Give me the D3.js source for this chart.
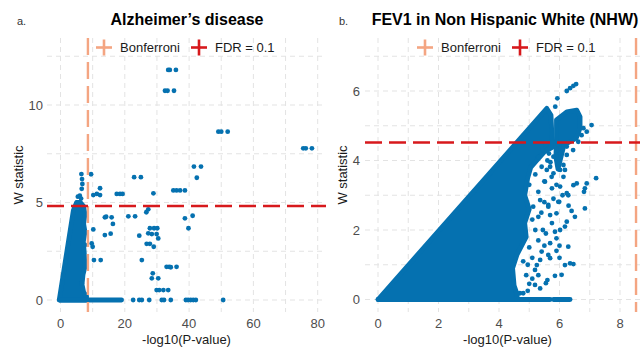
<!DOCTYPE html>
<html>
<head>
<meta charset="utf-8">
<script src="https://cdn.jsdelivr.net/npm/d3@7"></script>
<style>
body { margin: 0; background: #fff; }
svg { display: block; font-family: "Liberation Sans", Arial, sans-serif; }
.tick { font-size: 13px; fill: #4d4d4d; }
.axt { font-size: 13px; fill: #1a1a1a; }
.ttl { font-size: 16px; font-weight: bold; fill: #000; }
.lg { font-size: 13px; fill: #1a1a1a; }
.tag { font-size: 11px; fill: #333; }
</style>
</head>
<body>
<svg width="640" height="347"></svg>
<script>
// ---- data ----
var panelTags = ["a.", "b."]
var panelTitles = ["Alzheimer\u2019s disease", "FEV1 in Non Hispanic White (NHW)"]
var legendLabels = ["Bonferroni", "FDR = 0.1"]
var xLabel = "-log10(P-value)"
var yLabel = "W statistic"

var xTicksA = [0, 20, 40, 60, 80]
var yTicksA = [0, 5, 10]
var xTicksB = [0, 2, 4, 6, 8]
var yTicksB = [0, 2, 4, 6]

// thresholds: bonferroni (-log10 p) and FDR (W)
var bonferroniA = 8.53, fdrA = 4.82
var bonferroniB = 8.53, fdrB = 4.52

// dense cloud outlines [x, W]
var massA = [[-0.4,0],[4.0,4.6],[5.0,5.0],[6.2,5.0],[7.2,4.8],[7.6,4.4],[7.2,3.9],[7.6,3.5],[7.1,3.0],[7.4,2.4],[7.6,1.7],[7.0,1.3],[6.7,0.8],[7.2,0.4],[8.1,0.2],[8.1,0]]
var massB = [[0,0],[5.58,5.5],[5.72,5.3],[5.75,4.7],[5.8,4.4],[5.5,4.25],[5.25,4.0],[5.05,3.8],[4.95,3.5],[4.85,3.0],[5.0,2.6],[4.85,2.2],[4.9,1.8],[4.6,1.3],[4.45,0.9],[4.5,0.4],[4.6,0.15],[4.6,0]]
var lobeB = [[5.9,5.17],[6.24,5.4],[6.57,5.45],[6.68,5.26],[6.68,4.93],[6.55,4.64],[6.35,4.54],[6.15,4.45],[6.05,4.1],[5.95,3.75],[5.88,4.1],[5.9,4.6]]

// runs of touching points on a row [x0, x1, W]
var runsA = [[-0.3, 19, 0]]
var runsB = [[0, 5.69, 0], [5.8, 6.35, 0]]

// single points [x, W]
var pointsA = [
  [33.5,11.8],[34.0,11.8],[35.9,11.8],
  [32.5,10.73],[33.3,10.73],[35.3,10.73],
  [49.1,8.63],[50.0,8.63],[52.0,8.63],
  [75.5,7.78],[76.3,7.78],[78.2,7.78],
  [41.5,6.84],[43.7,6.84],[42.4,6.27],
  [22.9,6.3],[25.0,6.3],[9.5,6.45],[12.3,5.73],
  [6.5,6.46],[6.7,6.2],[6.8,5.95],[6.6,5.7],[5.4,5.3],[6.0,5.35],[6.4,5.2],
  [10.2,5.38],[11.3,5.44],[12.3,5.38],
  [17.5,5.44],[18.5,5.44],[19.3,5.44],[28.9,5.47],
  [35.1,5.62],[36.1,5.62],[37.2,5.62],[38.7,5.62],
  [13.8,4.24],[14.2,4.27],[15.9,4.24],[16.3,3.9],
  [21.1,4.29],[23.2,4.29],[26.7,4.5],[27.3,4.65],
  [38.7,4.19],[41.1,4.32],[39.8,3.68],[10.2,3.62],
  [13.8,3.33],[15.6,3.4],[24.5,3.3],
  [27.8,3.68],[29.1,3.68],[30.1,3.68],
  [27.3,3.42],[28.4,3.38],[29.9,3.38],[30.4,3.16],
  [26.8,2.88],[27.8,2.88],[29.0,2.73],
  [7.6,2.82],[9.7,2.9],[10.0,2.73],
  [10.4,2.05],[12.5,2.05],[25.3,2.05],
  [33.0,1.7],[33.8,1.7],[34.3,1.68],[36.1,1.7],
  [28.7,1.37],[28.4,1.11],[30.4,1.11],
  [29.9,0.51],[30.7,0.51],[32.0,0.51],[33.5,0.51],[6.6,0.86],
  [22.6,0],[24.5,0],[25.3,0],[27.6,0],[31.5,0],[32.2,0],[34.3,0],
  [39.0,0],[39.7,0],[40.5,0],[41.3,0],[42.1,0],[50.6,0]
]
var pointsB = [
  [6.55,6.2],[6.46,6.15],[6.35,6.08],[6.24,6.0],[5.93,5.79],[5.86,5.55],
  [7.06,5.02],[6.9,4.83],[6.79,4.93],[6.73,4.73],[6.62,4.54],[6.45,4.3],
  [5.8,4.11],[6.02,4.21],[6.24,4.4],[6.24,4.16],[6.13,3.87],[6.02,3.73],
  [7.21,3.49],[6.9,3.34],[6.84,3.2],[6.81,3.1],[6.57,3.34],[6.46,3.29],
  [6.84,2.62],[6.24,3.06],[6.29,3.0],[5.96,2.81],[5.63,2.67],[6.51,2.38],
  [5.85,1.95],[6.24,2.24],[6.02,3.25],[6.13,3.53],[6.18,3.73],
  [5.58,3.73],[5.8,3.63],[5.69,3.82],[5.74,3.53],[5.41,3.82],[5.52,3.39],
  [5.36,2.86],[5.13,2.67],[5.3,2.38],[5.9,2.48],
  [6.18,2.1],[6.02,2.0],[5.69,2.43],[5.63,2.72],[5.99,2.81],
  [5.9,1.76],[5.69,1.62],[6.29,1.52],[5.63,1.28],[5.69,1.19],
  [6.35,1.04],[6.46,1.02],[6.18,0.99],
  [5.85,0.68],[6.07,0.71],[5.6,0.56],[5.55,0.47],[5.36,0.32],[5.19,0.42],
  [4.69,0.18],[4.8,0.18],[5.19,0.85],[5.25,0.99],[5.36,1.14],[5.41,1.38],
  [5.0,3.3],[5.2,3.6],[5.3,3.1],[5.1,2.3],[5.2,2.0],[5.0,1.5],[4.8,1.1],
  [4.9,0.7],[5.0,0.45],[5.3,1.7],[5.45,2.0],[5.4,2.5],[5.5,3.4],[5.6,4.0],[5.3,4.1],
  [5.45,4.3],[5.55,4.45],[5.65,4.2],[5.7,3.95],[5.95,4.45],[5.9,3.3],[6.1,3.0],
  [5.75,3.2],[5.8,2.9],[5.5,2.8],[5.75,2.2],[5.55,1.9],[5.9,1.4],[6.0,1.2],
  [5.5,1.55],[5.1,1.2],[4.95,1.0],[5.1,0.6],[5.3,0.7],[4.95,0.25],[6.3,2.7],
  [6.4,2.55],[6.0,1.55]
]

// ---- drawing ----
var svg = d3.select("svg")
var blue = "#0571b0", bonfCol = "#f4a582", fdrCol = "#d7191c", gridCol = "#e3e3e3"
var dotR = 2.4

var panels = [
  {tag: panelTags[0], title: panelTitles[0], xTicks: xTicksA, yTicks: yTicksA,
   xRange: [60.5, 317.7], yRange: [300, 105], box: [47, 38, 326, 312],
   bonf: bonferroniA, fdr: fdrA, mass: [massA], runs: runsA, pts: pointsA,
   tagX: 17, titleX: 187, ylabX: 23, ytickX: 43},
  {tag: panelTags[1], title: panelTitles[1], xTicks: xTicksB, yTicks: yTicksB,
   xRange: [378, 620], yRange: [299.5, 91], box: [365, 38, 650, 312],
   bonf: bonferroniB, fdr: fdrB, mass: [massB, lobeB], runs: runsB, pts: pointsB,
   tagX: 339, titleX: 505, ylabX: 347, ytickX: 360}
]

panels.forEach(function(p) {
  var xt = p.xTicks, yt = p.yTicks
  var x = d3.scaleLinear().domain([xt[0], xt[xt.length-1]]).range(p.xRange)
  var y = d3.scaleLinear().domain([yt[0], yt[yt.length-1]]).range(p.yRange)
  var b = p.box
  var g = svg.append("g")

  // grid (major + minor, all dashed)
  var xs = (xt[1]-xt[0])/2, ys = (yt[1]-yt[0])/2
  var xg = d3.range(Math.ceil(x.invert(b[0])/xs)*xs, x.invert(b[2]), xs)
  var yg = d3.range(Math.ceil(y.invert(b[3])/ys)*ys, y.invert(b[1]), ys)
  g.selectAll(".gx").data(xg).enter().append("line")
    .attr("x1", d=>x(d)).attr("x2", d=>x(d)).attr("y1", b[1]).attr("y2", b[3])
    .attr("stroke", gridCol).attr("stroke-width", 1).attr("stroke-dasharray", "5,4")
  g.selectAll(".gy").data(yg).enter().append("line")
    .attr("y1", d=>y(d)).attr("y2", d=>y(d)).attr("x1", b[0]).attr("x2", b[2])
    .attr("stroke", gridCol).attr("stroke-width", 1).attr("stroke-dasharray", "5,4")

  // dense clouds
  var line = d3.line().x(d=>x(d[0])).y(d=>y(d[1]))
  p.mass.forEach(function(m) {
    g.append("path").attr("d", line(m) + "Z")
      .attr("fill", blue).attr("stroke", blue)
      .attr("stroke-width", dotR*2).attr("stroke-linejoin", "round")
  })
  g.selectAll(".run").data(p.runs).enter().append("line")
    .attr("x1", d=>x(d[0])).attr("x2", d=>x(d[1]))
    .attr("y1", d=>y(d[2])).attr("y2", d=>y(d[2]))
    .attr("stroke", blue).attr("stroke-width", dotR*2).attr("stroke-linecap", "round")
  g.selectAll(".pt").data(p.pts).enter().append("circle")
    .attr("cx", d=>x(d[0])).attr("cy", d=>y(d[1])).attr("r", dotR).attr("fill", blue)

  // threshold lines
  g.append("line").attr("x1", x(p.bonf)).attr("x2", x(p.bonf)).attr("y1", b[1]).attr("y2", b[3])
    .attr("stroke", bonfCol).attr("stroke-width", 2.4).attr("stroke-dasharray", "17,7")
  g.append("line").attr("y1", y(p.fdr)).attr("y2", y(p.fdr)).attr("x1", b[0]).attr("x2", b[2])
    .attr("stroke", fdrCol).attr("stroke-width", 2.6).attr("stroke-dasharray", "17,7")

  // tick labels
  g.selectAll(".xl").data(xt).enter().append("text").attr("class", "tick")
    .attr("x", d=>x(d)).attr("y", 328).attr("text-anchor", "middle").text(d=>d)
  g.selectAll(".yl").data(yt).enter().append("text").attr("class", "tick")
    .attr("x", p.ytickX).attr("y", d=>y(d)).attr("dy", "0.36em").attr("text-anchor", "end").text(d=>d)

  // axis titles
  var cx = (b[0]+b[2])/2
  g.append("text").attr("class", "axt").attr("x", cx).attr("y", 343.5)
    .attr("text-anchor", "middle").text(xLabel)
  g.append("text").attr("class", "axt").attr("text-anchor", "middle")
    .attr("transform", "translate(" + p.ylabX + "," + ((b[1]+b[3])/2) + ") rotate(-90)").text(yLabel)

  // title + tag
  g.append("text").attr("class", "ttl").attr("x", p.titleX).attr("y", 25)
    .attr("text-anchor", "middle").text(p.title)
  g.append("text").attr("class", "tag").attr("x", p.tagX).attr("y", 25).text(p.tag)

  // legend
  var keys = [{c: bonfCol, t: legendLabels[0], dx: -82.5}, {c: fdrCol, t: legendLabels[1], dx: 12.5}]
  keys.forEach(function(k) {
    var kx = cx + k.dx, ky = 47.5
    g.append("line").attr("x1", kx-8).attr("x2", kx+8).attr("y1", ky).attr("y2", ky)
      .attr("stroke", k.c).attr("stroke-width", 2.6)
    g.append("line").attr("x1", kx).attr("x2", kx).attr("y1", ky-8).attr("y2", ky+8)
      .attr("stroke", k.c).attr("stroke-width", 2.6)
    g.append("text").attr("class", "lg").attr("x", kx+16).attr("y", 52).text(k.t)
  })
})
</script>
</body>
</html>
